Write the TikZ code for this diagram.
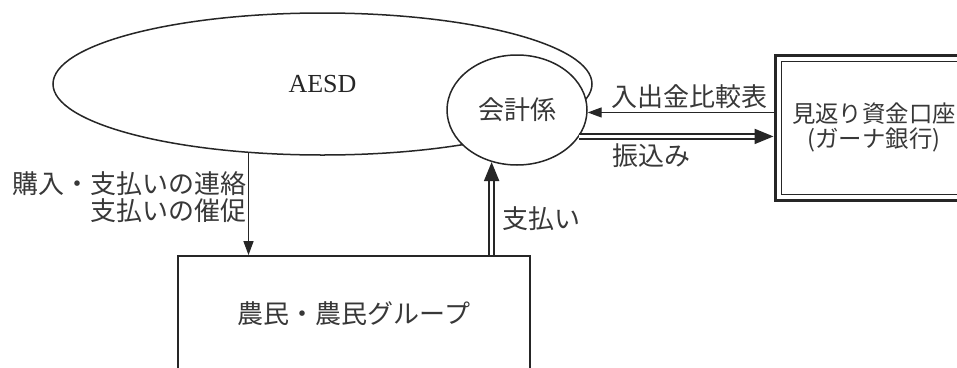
\documentclass[tikz,border=0pt]{standalone}
\usepackage{fontspec}
\setmainfont{Liberation Serif}
\newfontfamily\jp{Noto Sans CJK JP}
\usetikzlibrary{arrows.meta,calc,shapes.geometric}
\begin{document}
\begin{tikzpicture}[x=1pt,y=1pt,
  ln/.style={draw=black!85, line width=1.5pt},
  lbl/.style={font=\jp\fontsize{26}{27}\selectfont, text=black!78, inner sep=0pt},
  sarrow/.style={draw=black!85, line width=1.3pt, -{Triangle[length=14pt,width=10pt]}},
  darrow/.style={draw=black!85, line width=2pt, double, double distance=2.4pt, -{Triangle[length=19pt,width=15pt]}},
]
\clip (0,0) rectangle (957,-367);
\fill[white] (0,0) rectangle (957,-367);
% AESD ellipse
\node[ellipse, ln, minimum width=539, minimum height=142, inner sep=0pt,
      font=\fontsize{26}{28}\selectfont, text=black!85] (aesd) at (322.5,-84) {AESD};
% accounting circle
\node[ellipse, ln, fill=white, minimum width=140, minimum height=110, inner sep=0pt, lbl] (acct) at (517,-110) {会計係};
% bank box
\node[draw=black!85, line width=3pt, minimum width=198, minimum height=145, lbl,
      font=\jp\fontsize{23.4}{25.5}\selectfont, align=center]
  (bank) at (874,-127.5) {見返り資金口座\\(ガーナ銀行)};
\draw[draw=black!85, line width=1pt] ($(bank.north west)+(7.5,-7.5)$) rectangle ($(bank.south east)+(-7.5,7)$);
% farmers box
\node[draw=black!85, line width=1.8pt, minimum width=352, minimum height=116, lbl] (farm) at (354,-314) {農民・農民グループ};
% arrows
\draw[sarrow] (aesd.223.3) -- (aesd.223.3 |- farm.north);
\node[lbl, anchor=east, align=right] (l1) at (247,-197) {購入・支払いの連絡\\支払いの催促};
\draw[darrow] (acct.244 |- farm.north) -- (acct.244);
\node[lbl, anchor=west] (pay) at (502,-219) {支払い};
\draw[sarrow] (acct.-2.5 -| bank.west) -- (acct.-2.5);
\node[lbl] (cmp) at (689,-97) {入出金比較表};
\draw[darrow] (acct.-23.9) -- (acct.-23.9 -| bank.west);
\node[lbl] (tr) at (651,-156) {振込み};
\end{tikzpicture}
\end{document}
